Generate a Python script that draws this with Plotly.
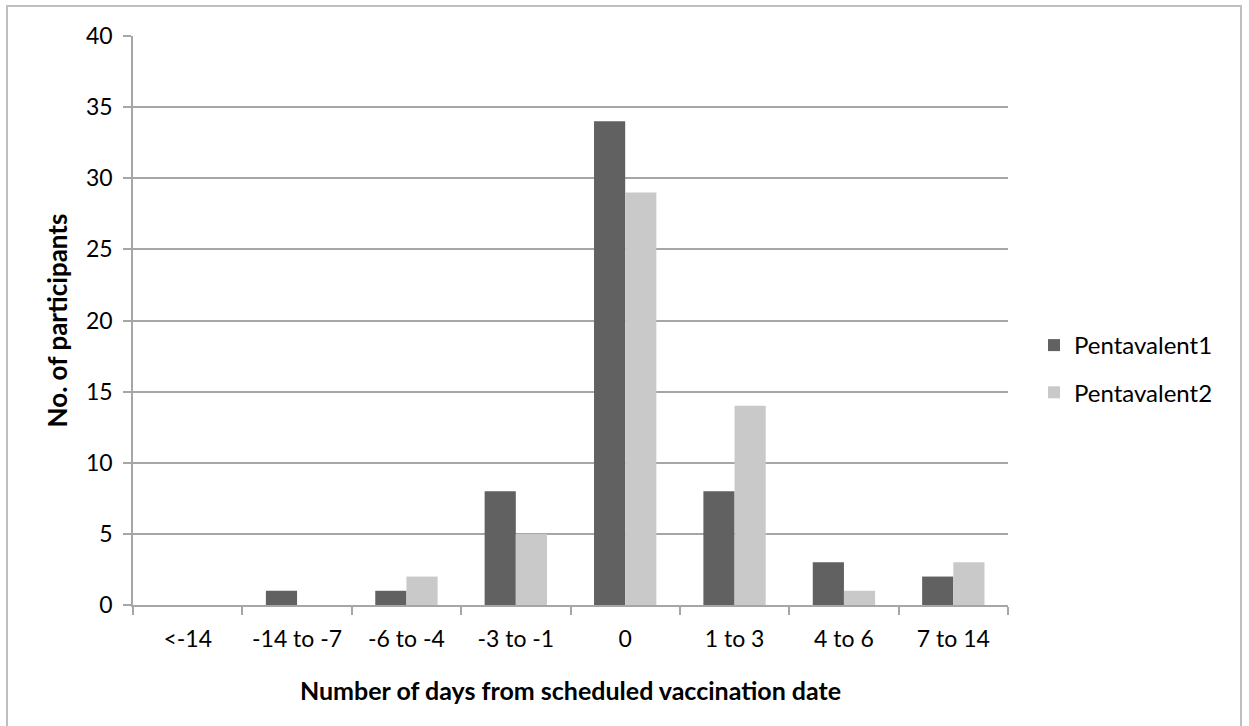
import plotly.graph_objects as go

categories = ["<-14", "-14 to -7", "-6 to -4", "-3 to -1", "0", "1 to 3", "4 to 6", "7 to 14"]
penta1 = [0, 1, 1, 8, 34, 8, 3, 2]
penta2 = [0, 0, 2, 5, 29, 14, 1, 3]
y_ticks = [0, 5, 10, 15, 20, 25, 30, 35, 40]

FONT = "Lato"
W, H = 1249, 726
L, R, T, B = 133, 241, 36, 121
pw, ph = W - L - R, H - T - B

fig = go.Figure()
fig.add_trace(go.Bar(name="Pentavalent1", x=categories, y=penta1,
                     marker=dict(color="#616161", line=dict(width=0)),
                     legendgroup="a"))
fig.add_trace(go.Bar(name="Pentavalent2", x=categories, y=penta2,
                     marker=dict(color="#c9c9c9", line=dict(width=0)),
                     legendgroup="b"))

def px_x(x):
    return (x - L) / pw

def px_y(y):
    return 1 - (y - T) / ph

fig.add_shape(type="rect", xref="paper", yref="paper",
              x0=px_x(7), x1=px_x(1241), y0=px_y(740), y1=px_y(6),
              line=dict(color="#bfbfbf", width=2), fillcolor="rgba(0,0,0,0)", layer="below")

fig.update_layout(
    width=W, height=H,
    margin=dict(l=L, r=R, t=T, b=B, autoexpand=False),
    paper_bgcolor="white", plot_bgcolor="white",
    barmode="group", bargap=0.43, bargroupgap=0,
    font=dict(family=FONT, color="#000000", size=23),
    showlegend=True,
    legend=dict(x=px_x(1034), y=px_y(369), xanchor="left", yanchor="middle",
                font=dict(size=24, family=FONT), traceorder="grouped",
                tracegroupgap=13, bgcolor="rgba(0,0,0,0)", itemwidth=30),
    xaxis=dict(
        title=dict(text="<b>Number of days from scheduled vaccination date</b>",
                   font=dict(size=25, family=FONT), standoff=31),
        showline=True, linecolor="#a6a6a6", linewidth=1.5,
        ticks="outside", tickson="boundaries", ticklen=8, tickcolor="#a6a6a6", tickwidth=1.5,
        tickfont=dict(size=23, family=FONT), showgrid=False, ticklabelstandoff=13,
    ),
    yaxis=dict(
        title=dict(text="<b>No. of participants</b>", font=dict(size=26, family=FONT), standoff=11),
        range=[0, 40], tickvals=y_ticks, ticktext=[str(v) for v in y_ticks],
        showline=True, linecolor="#a6a6a6", linewidth=1.5,
        ticks="outside", ticklen=8, tickcolor="#a6a6a6", tickwidth=1.5,
        showgrid=True, gridcolor="#a6a6a6", gridwidth=1.5,
        zeroline=False, tickfont=dict(size=23, family=FONT), ticklabelstandoff=6,
    ),
)

fig.write_html("out.html", config={"displayModeBar": False},
               post_script="document.body.style.margin='0';document.body.style.overflow='hidden';")
